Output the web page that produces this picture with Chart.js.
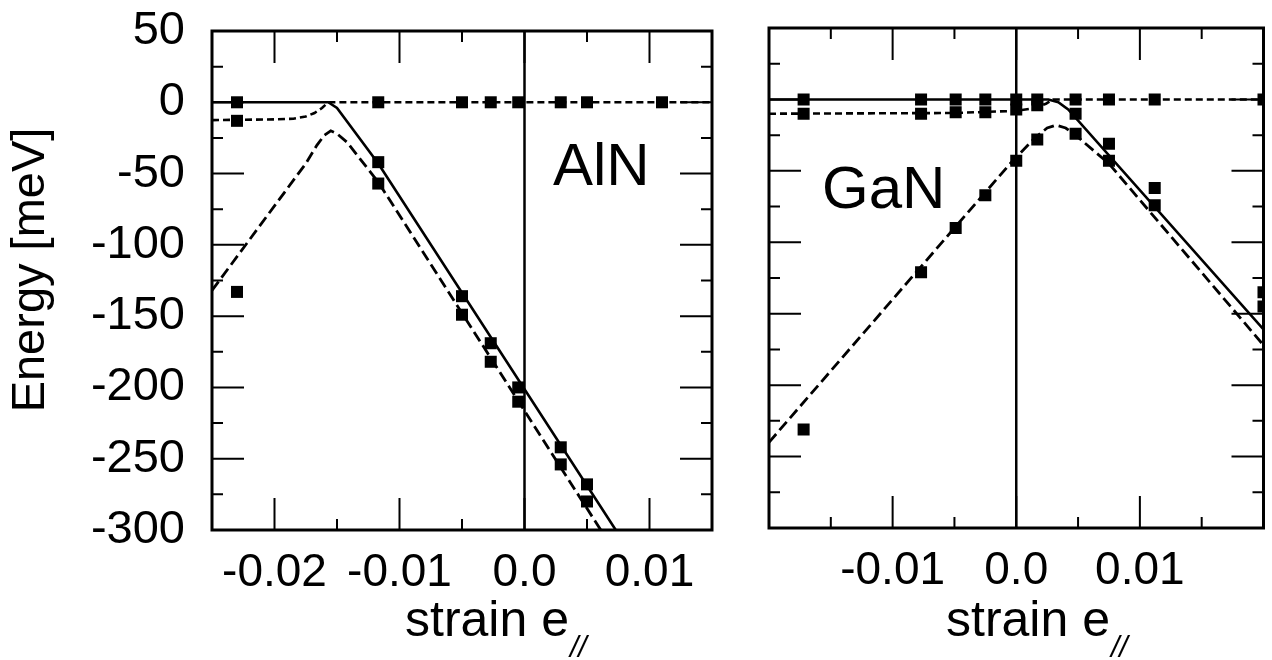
<!DOCTYPE html>
<html>
<head>
<meta charset="utf-8">
<script src="https://cdn.jsdelivr.net/npm/chart.js@4/dist/chart.umd.min.js"></script>
<style>
  body { margin: 0; background: #fff; width: 1272px; height: 660px; overflow: hidden; position: relative; }
  canvas { position: absolute; top: 0; }
  #aln { left: 0; }
  #gan { left: 740px; }
</style>
</head>
<body>
<canvas id="aln" width="740" height="660"></canvas>
<canvas id="gan" width="532" height="660"></canvas>
<script>
const FONT = '"Liberation Sans", Arial, Helvetica, sans-serif';

// shared energy axis
const yTicks = [50, 0, -50, -100, -150, -200, -250, -300];
const yMinor = [25, -25, -75, -125, -175, -225, -275];

// ---- AlN ----
const alnXTicks = [-0.02, -0.01, 0, 0.01];
const alnXMinor = [-0.015, -0.005, 0.005];
const alnStrain = [-0.023, -0.0117, -0.005, -0.0027, -0.0005, 0.0029, 0.005, 0.011];
const alnTop = [0, 0, 0, 0, 0, 0, 0, 0];
const alnMid = [-13, -42, -136, -169, -200, -242, -268];
const alnLow = [-133, -57, -149, -182, -210, -254, -280];
// model curves
const alnSolidX = [-0.025, -0.0157, -0.015, -0.0117, 0.0073];
const alnSolidY = [0, 0, -4, -43, -300];
const alnShortX = [-0.025, -0.02, -0.0185, -0.0175, -0.0168, -0.0162, -0.0157, 0.015];
const alnShortY = [-12.5, -12, -11.5, -10, -7.5, -4, 0, 0];
const alnLongX = [-0.025, -0.0175, -0.0166, -0.016, -0.0155, -0.015, -0.0142, -0.0117, 0.0061];
const alnLongY = [-132, -43, -30, -23, -20, -22, -28, -56, -300];

// ---- GaN ----
const ganXTicks = [-0.01, 0, 0.01];
const ganXMinor = [-0.015, -0.005, 0.005, 0.015];
const ganStrain = [-0.0172, -0.0077, -0.0049, -0.0025, 0, 0.0017, 0.0048, 0.0075, 0.0112, 0.02];
const ganTop = [0, 0, 0, 0, 0, 0, 0, 0, 0, 0];
const ganMid = [-10, -10, -9, -9, -7, -4, -10, -31, -62, -135];
const ganLow = [-231, -121, -90, -67, -43, -28, -24, -43, -74, -145];
const ganSolidX = [-0.02, 0.0026, 0.0034, 0.0042, 0.02];
const ganSolidY = [0, 0, -2, -7, -161];
const ganShortX = [-0.02, -0.005, 0, 0.0015, 0.0024, 0.003, 0.02];
const ganShortY = [-10, -9.5, -8, -6, -3, 0, 0];
const ganLongX = [-0.02, -0.0005, 0.0015, 0.0025, 0.0032, 0.004, 0.0048, 0.0075, 0.02];
const ganLongY = [-240, -45, -27, -20, -18, -20, -25, -45, -172];

function curve(xs, ys, dash, width) {
  return {
    data: xs.map((x, i) => ({ x, y: ys[i] })),
    showLine: true, borderColor: '#000', borderWidth: width, borderDash: dash,
    pointRadius: 0, fill: false, tension: 0
  };
}
function marks(xs, ys) {
  return {
    data: ys.map((y, i) => ({ x: xs[i], y })),
    showLine: false, pointStyle: 'rect', pointRadius: 8.5,
    backgroundColor: '#000', borderColor: '#000', borderWidth: 0
  };
}

// frame, inward ticks and text drawn on top of the chart area
function framePlugin(cfg) {
  return {
    id: 'frame',
    afterDatasetsDraw(chart) {
      const { ctx, chartArea: a, scales: { x, y } } = chart;
      ctx.save();
      ctx.strokeStyle = '#000';
      ctx.lineWidth = 2;
      ctx.beginPath();
      const xt = (vals, len) => vals.forEach(v => {
        const p = x.getPixelForValue(v);
        ctx.moveTo(p, a.bottom); ctx.lineTo(p, a.bottom - len);
        ctx.moveTo(p, a.top); ctx.lineTo(p, a.top + len);
      });
      const yt = (vals, len) => vals.forEach(v => {
        const p = y.getPixelForValue(v);
        ctx.moveTo(a.left, p); ctx.lineTo(a.left + len, p);
        ctx.moveTo(a.right, p); ctx.lineTo(a.right - len, p);
      });
      xt(cfg.xMajor, 32); xt(cfg.xMinor, 11);
      yt(yTicks, 32); yt(yMinor, 11);
      ctx.stroke();
      ctx.lineWidth = 3;
      ctx.strokeRect(a.left, a.top, a.right - a.left, a.bottom - a.top);

      ctx.fillStyle = '#000';
      ctx.textBaseline = 'alphabetic';
      ctx.textAlign = 'left';
      ctx.font = '60px ' + FONT;
      ctx.fillText(cfg.label, cfg.labelX, cfg.labelY);

      ctx.font = '50px ' + FONT;
      ctx.fillText('strain e', cfg.titleX, 636);
      const w = ctx.measureText('strain e').width;
      ctx.font = 'italic 30px ' + FONT;
      ctx.fillText('//', cfg.titleX + w + 1, 657);

      if (cfg.yTitle) {
        ctx.translate(31, 270);
        ctx.rotate(-Math.PI / 2);
        ctx.textAlign = 'center';
        ctx.textBaseline = 'middle';
        ctx.font = '47px ' + FONT;
        ctx.fillText('Energy [meV]', 0, 0);
      }
      ctx.restore();
    }
  };
}

function makeChart(id, o) {
  return new Chart(document.getElementById(id), {
    type: 'scatter',
    data: {
      datasets: [
        curve([0, 0], [-300, 50], [], 2.5),
        curve(o.solidX, o.solidY, [], 2.6),
        curve(o.shortX, o.shortY, [7, 4], 2.6),
        curve(o.longX, o.longY, [11, 5], 2.8),
        marks(o.strain, o.top),
        marks(o.strain, o.mid),
        marks(o.strain, o.low)
      ]
    },
    options: {
      responsive: false,
      animation: false,
      events: [],
      layout: { padding: { top: o.padTop, right: o.padRight, left: 0, bottom: 0 } },
      plugins: { legend: { display: false }, tooltip: { enabled: false } },
      scales: {
        x: {
          type: 'linear', min: o.xMin, max: o.xMax,
          afterBuildTicks: s => { s.ticks = o.xTicks.map(v => ({ value: v })); },
          afterFit: s => { s.height = o.xHeight; s.paddingLeft = 0; s.paddingRight = 0; },
          grid: { display: false, drawTicks: false },
          border: { display: false },
          ticks: {
            color: '#000', font: { family: FONT, size: 46 }, padding: 16,
            maxRotation: 0, autoSkip: false,
            callback: v => (v === 0 ? '0.0' : String(v))
          }
        },
        y: {
          type: 'linear', min: -300, max: 50,
          afterBuildTicks: s => { s.ticks = yTicks.map(v => ({ value: v })); },
          afterFit: s => { s.width = o.yWidth; s.paddingTop = 0; s.paddingBottom = 0; },
          grid: { display: false, drawTicks: false },
          border: { display: false },
          ticks: {
            display: o.yLabels, color: '#000', font: { family: FONT, size: 47 },
            padding: 27, autoSkip: false, callback: v => String(v)
          }
        }
      }
    },
    plugins: [framePlugin(o.frame)]
  });
}

makeChart('aln', {
  xMin: -0.025, xMax: 0.015, xTicks: alnXTicks,
  strain: alnStrain, top: alnTop, mid: alnMid, low: alnLow,
  solidX: alnSolidX, solidY: alnSolidY, shortX: alnShortX, shortY: alnShortY,
  longX: alnLongX, longY: alnLongY,
  padTop: 31, padRight: 28, xHeight: 130, yWidth: 212, yLabels: true,
  frame: { xMajor: alnXTicks, xMinor: alnXMinor, label: 'AlN', labelX: 553, labelY: 185, titleX: 405, yTitle: true }
});

makeChart('gan', {
  xMin: -0.02, xMax: 0.02, xTicks: ganXTicks,
  strain: ganStrain, top: ganTop, mid: ganMid, low: ganLow,
  solidX: ganSolidX, solidY: ganSolidY, shortX: ganShortX, shortY: ganShortY,
  longX: ganLongX, longY: ganLongY,
  padTop: 28, padRight: 5, xHeight: 132, yWidth: 29, yLabels: false,
  frame: { xMajor: ganXTicks, xMinor: ganXMinor, label: 'GaN', labelX: 82, labelY: 208, titleX: 206, yTitle: false }
});
</script>
</body>
</html>
